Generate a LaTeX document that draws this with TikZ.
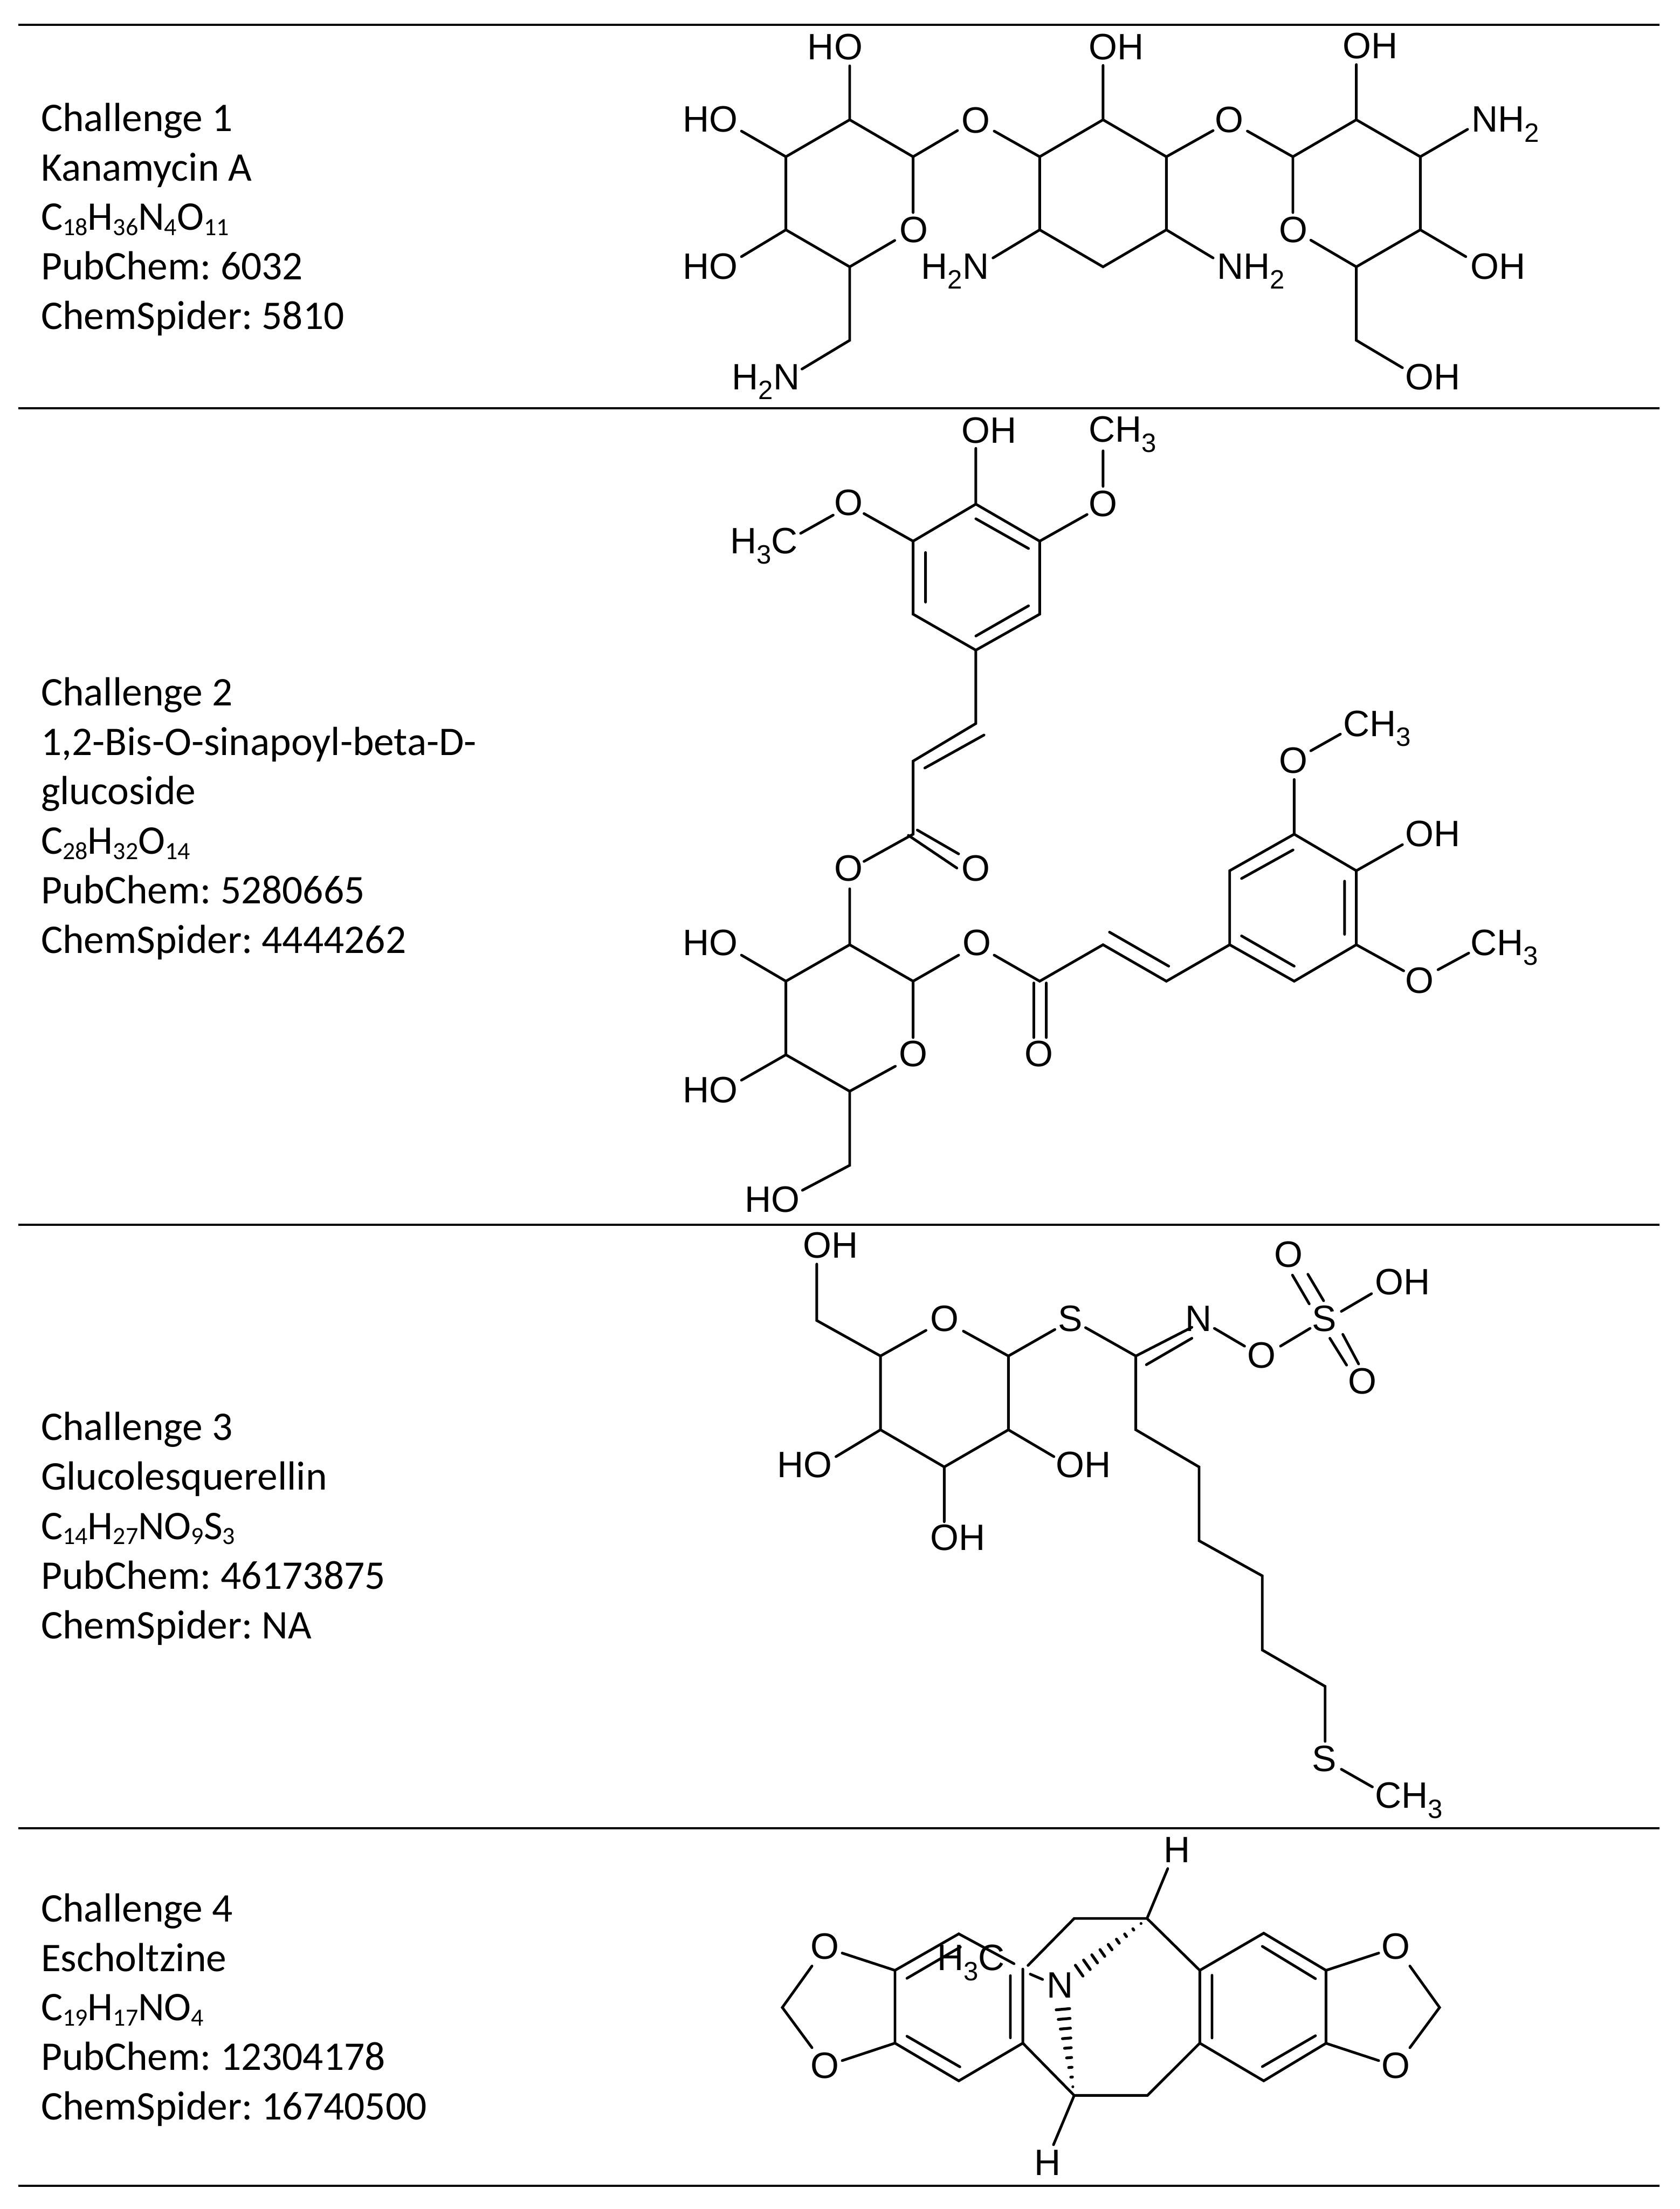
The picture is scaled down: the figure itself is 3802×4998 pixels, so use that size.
\documentclass[tikz,border=0pt]{standalone}
\usepackage{fontspec}
\setmainfont{Carlito}
\newfontfamily\arialfam{Liberation Sans}
\newcommand{\atomfont}{\arialfam\fontsize{20.75}{24}\selectfont}
\newcommand{\infofont}{\frenchspacing\fontsize{23}{28}\selectfont}
\newcommand{\sbc}[1]{\raisebox{-2.9pt}{\fontsize{14}{14}\selectfont #1}}
\newcommand{\sba}[1]{\raisebox{-5.75pt}{\fontsize{15}{15}\selectfont #1}}
\usetikzlibrary{calc}
\tikzset{
  bond/.style={line width=1.5pt,line cap=round,line join=miter},
  hashbar/.style={line width=1.6pt,line cap=round},
  rowrule/.style={line width=1.25pt},
  atom/.style={inner sep=0pt,anchor=base west,xshift=-1.25pt,font=\atomfont},
  info/.style={inner sep=0pt,anchor=base west,align=left,font=\infofont}
}
\newcommand{\pts}[1]{\foreach \n/\px/\py in {#1}{\coordinate (\n) at (\px,\py);}}
\begin{document}
\begin{tikzpicture}[x=0.25pt,y=-0.25pt]
\useasboundingbox (0,0) rectangle (3802,4998);
% rules
\pts{L0/41/56,R0/3756/56,L1/41/924,R1/3756/924,L2/41/2770.7,R2/3756/2770.7,L3/41/4136.5,R3/3756/4136.5,L4/41/4945,R4/3756/4945}
\foreach \i in {0,...,4}{\draw[rowrule] (L\i)--(R\i);}
% left column
\node[info] (t1) at (92,745) {Challenge 1\\Kanamycin A\\C\sbc{18}H\sbc{36}N\sbc{4}O\sbc{11}\\PubChem: 6032\\ChemSpider: 5810};
\node[info] (t2) at (92,2156.3) {Challenge 2\\1,2-Bis-O-sinapoyl-beta-D-\\glucoside\\C\sbc{28}H\sbc{32}O\sbc{14}\\PubChem: 5280665\\ChemSpider: 4444262};
\node[info] (t3) at (92,3707) {Challenge 3\\Glucolesquerellin\\C\sbc{14}H\sbc{27}NO\sbc{9}S\sbc{3}\\PubChem: 46173875\\ChemSpider: NA};
\node[info] (t4) at (92,4796) {Challenge 4\\Escholtzine\\C\sbc{19}H\sbc{17}NO\sbc{4}\\PubChem: 12304178\\ChemSpider: 16740500};
% ---------- Kanamycin A
\pts{a1/1923/271,a2/2066.5/354.6,a3/2066.5/481,a4/2025/544,a5/1923/603.7,a6/1778.6/520,a7/1778.6/354.6,a8/1923/149,a9/1678/296.6,a10/1678/580.7,a11/1923/770,a12/1815/835,a13/2167/295.4,
b1/2250/296.6,b2/2353/354.6,b3/2496.4/271,b4/2639.7/354.6,b5/2639.7/520,b6/2496.4/603.7,b7/2353/520,b8/2496.4/148,b9/2247.3/583.6,b10/2745.5/583.6,b11/2745.5/295.4,
c1/2823/296.6,c2/2926/354.6,c3/3069.6/271,c4/3214.4/354.6,c5/3214.4/520,c6/3069.6/603.7,c7/2966.6/543.4,c8/2926/481,c9/3069.6/146,c10/3321.4/292.6,c11/3317.4/580.7,c12/3069.6/770,c13/3174/832}
\draw[bond] (a3)--(a2)--(a1)--(a7)--(a6)--(a5)--(a4) (a1)--(a8) (a7)--(a9) (a6)--(a10) (a5)--(a11)--(a12) (a2)--(a13);
\draw[bond] (b1)--(b2)--(b3)--(b4)--(b5)--(b6)--(b7)--(b2) (b3)--(b8) (b7)--(b9) (b5)--(b10) (b4)--(b11);
\draw[bond] (c1)--(c2)--(c3)--(c4)--(c5)--(c6)--(c7) (c2)--(c8) (c3)--(c9) (c4)--(c10) (c5)--(c11) (c6)--(c12)--(c13);
\node[atom] (A1) at (1832,134.7) {HO};
\node[atom] (A2) at (2468,134.7) {OH};
\node[atom] (A3) at (3043,133) {OH};
\node[atom] (A4) at (1549.6,298) {HO};
\node[atom] (A5) at (2181,301) {O};
\node[atom] (A6) at (2754,299.5) {O};
\node[atom] (A7) at (3335,298) {NH\sba{2}};
\node[atom] (A8) at (1549.6,631) {HO};
\node[atom] (A9) at (2089,631) {H\sba{2}N};
\node[atom] (A10) at (2759,631) {NH\sba{2}};
\node[atom] (A11) at (3332,631) {OH};
\node[atom] (A12) at (2040,549) {O};
\node[atom] (A13) at (2899.5,549) {O};
\node[atom] (A14) at (1660.7,881) {H\sba{2}N};
\node[atom] (A15) at (3185,881) {OH};
% ---------- 1,2-Bis-O-sinapoyl-beta-D-glucoside
\pts{d1/2208.5/1140.6,d2/2353/1224.4,d3/2353/1389.6,d4/2208.5/1471,d5/2066.5/1389.6,d6/2066.5/1224.4,
d1a/2208.5/1173.7,d2a/2327.7/1241,d3a/2327.7/1370.7,d4a/2208.5/1439,d5a/2094.6/1362.4,d6a/2094.6/1250,
d7/2208.5/1014.4,d8/2460.3/1164,d9/2496.4/1100.5,d10/2496.4/1020,d11/1955.4/1162,d12/1885.7/1165.4,d13/1812/1206.7,
e1/2208.5/1637,e2/2066.5/1722,e1a/2227/1663,e2a/2093/1737.6,e3/2066.5/1887.4,e4a/2076/1878,e4b/2169.6/1932,e5a/2055.8/1890,e5b/2165.6/1964,e6/1955.4/1949,e7/1923/2011,
f1/1923/2137.5,f2/2066.5/2220,f3/2066.5/2347.6,f4/2026.3/2412.4,f5/1923/2469,f6/1778.6/2386.5,f7/1778.6/2220,f8/1678/2161,f9/1678/2444,f10/1923/2636.6,f11/1816/2693,f12/2169.6/2161,
g1/2250/2161,g2/2353/2220,g3a/2339.7/2224,g3b/2339.7/2347.6,g4a/2367.9/2224,g4b/2367.9/2347.6,g5/2496.4/2137.5,g6/2639.7/2220,g5a/2511/2109,g6a/2645/2186,g7/2783/2137.5,
h1/2783/1970,h2/2929/1887.4,h3/3069.6/1970,h4/3069.6/2137.5,h5/2929/2220,h1a/2809.8/1987.7,h2a/2926.4/1923,h7a/2809.8/2117.5,h5a/2929/2186,h3a/3043/1993.6,h4a/3043/2114,
h6/2929/1763.6,h7/2966.6/1698.7,h8/3033.5/1661,h9/3174/1911,h10/3176.8/2196.6,h11/3254.5/2194,h12/3324/2156.4}
\draw[bond] (d1)--(d2)--(d3)--(d4)--(d5)--(d6)--(d1) (d1a)--(d2a) (d3a)--(d4a) (d5a)--(d6a) (d1)--(d7) (d2)--(d8) (d9)--(d10) (d6)--(d11) (d12)--(d13);
\draw[bond] (d4)--(e1)--(e2)--(e3)--(e6) (e1a)--(e2a) (e4a)--(e4b) (e5a)--(e5b) (e7)--(f1);
\draw[bond] (f1)--(f2)--(f3) (f4)--(f5)--(f6)--(f7)--(f1) (f7)--(f8) (f6)--(f9) (f5)--(f10)--(f11) (f2)--(f12);
\draw[bond] (g1)--(g2)--(g5)--(g6)--(g7) (g3a)--(g3b) (g4a)--(g4b) (g5a)--(g6a);
\draw[bond] (g7)--(h1)--(h2)--(h3)--(h4)--(h5)--(g7) (h1a)--(h2a) (h7a)--(h5a) (h3a)--(h4a) (h2)--(h6) (h7)--(h8) (h3)--(h9) (h4)--(h10) (h11)--(h12);
\node[atom] (D1) at (2180,1002.6) {OH};
\node[atom] (D2) at (2468,1000) {CH\sba{3}};
\node[atom] (D3) at (2468,1167.8) {O};
\node[atom] (D4) at (1892.4,1165.4) {O};
\node[atom] (D5) at (1656.7,1252.7) {H\sba{3}C};
\node[atom] (D6) at (1892.4,1993.6) {O};
\node[atom] (D7) at (2180,1993.6) {O};
\node[atom] (D8) at (1549.6,2161) {HO};
\node[atom] (D9) at (1549.6,2495) {HO};
\node[atom] (D10) at (2038.4,2412.4) {O};
\node[atom] (D11) at (1690,2743) {HO};
\node[atom] (D12) at (2183,2161) {O};
\node[atom] (D13) at (2323.7,2412.4) {O};
\node[atom] (D14) at (2899.5,1749.4) {O};
\node[atom] (D15) at (3044,1665.6) {CH\sba{3}};
\node[atom] (D16) at (3185,1914.6) {OH};
\node[atom] (D17) at (3185,2247) {O};
\node[atom] (D18) at (3332,2161) {CH\sba{3}};
% ---------- Glucolesquerellin
\pts{k1/1848.5/2987.7,k2/1848.5/2860,k3/1992.7/3068,k4/2095.7/3010,k5/2180.3/3011.8,k6/2282.2/3068,k7/2282.2/3235,k8/2137/3319,k9/1992.7/3235,
k10/2387.4/3008,k11/2456.8/3003.8,k12/2570.6/3068,k13/2697.4/3003,k14/2594.4/3087.7,k15/2697.4/3027.9,k16/2748.4/3005.5,k17/2816.7/3045.7,k18/2898/3045.7,k19/2965/3005.5,
k20/2963/2950,k21/2925/2885,k22/2995.6/2943,k23/2960/2883,k24/3009.7/3027.9,k25/3047.6/3088.6,k26/3039/3019,k27/3074.8/3086,k28/3035.7/2967,k29/3104/2927,
k30/2385.2/3295.7,k31/1891.9/3295.7,k32/2137/3443,k33/2570.6/3235,k34/2713.7/3319,k35/2713.7/3486,k36/2856.8/3565.4,k37/2856.8/3733.3,k38/2998.9/3815.4,k39/2998.9/3940,k40/3035.7/4003,k41/3106/4043}
\draw[bond] (k2)--(k1)--(k3)--(k4) (k5)--(k6)--(k7)--(k8)--(k9)--(k3) (k6)--(k10) (k11)--(k12)--(k13) (k14)--(k15) (k16)--(k17) (k18)--(k19) (k20)--(k21) (k22)--(k23) (k24)--(k25) (k26)--(k27) (k28)--(k29) (k7)--(k30) (k9)--(k31) (k8)--(k32) (k12)--(k33)--(k34)--(k35)--(k36)--(k37)--(k38)--(k39) (k40)--(k41);
\node[atom] (K1) at (1821.4,2846.6) {OH};
\node[atom] (K2) at (2109.8,3011.8) {O};
\node[atom] (K3) at (2399.3,3011.8) {S};
\node[atom] (K4) at (2686.6,3011.8) {N};
\node[atom] (K5) at (2827.6,3094.8) {O};
\node[atom] (K6) at (2974,3011.8) {S};
\node[atom] (K7) at (2888,2867) {O};
\node[atom] (K8) at (3055,3153) {O};
\node[atom] (K9) at (3116,2929.6) {OH};
\node[atom] (K10) at (2393.9,3343) {OH};
\node[atom] (K11) at (1762.9,3343) {HO};
\node[atom] (K12) at (2109.8,3508) {OH};
\node[atom] (K13) at (2974,4007.4) {S};
\node[atom] (K14) at (3116,4090.4) {CH\sba{3}};
% ---------- Escholtzine
\pts{m1/2025.5/4458,m2/2169.9/4375.4,m3/2295/4443,m4/2314.8/4455,m5/2314.8/4622.7,m6/2169.9/4708,m7/2025.5/4622.7,
m1a/2052.6/4476,m2a/2173.5/4405.3,m6a/2172.4/4676.3,m7a/2052.6/4607,m4a/2286.7/4470,m5a/2286.7/4610.7,
m8/2326.5/4446.9,m9/2431.1/4340.6,m10/2595.9/4340.6,m11/2715.3/4458,m12/2642.9/4227.7,m13/2331.6/4466.5,m14/2359.7/4478.6,
n1/2715.3/4622.7,n2/2860/4373.9,n3/3001/4458,n4/3001/4623,n5/2860/4708,n1a/2743/4469,n1b/2743/4611,n2a/2856.9/4403.7,n3a/2977.2/4476.9,n4a/2977.2/4605.9,n5a/2856.9/4675.8,
p1/2431.1/4741,p2/2596.9/4741,p3/2384.2/4852.6,
q1/1906/4418.9,q2/1837.7/4448.2,q3/1770.5/4542,q4/1837.7/4633,q5/1906/4662.2,
r1/3120.3/4418.9,r2/3190.8/4448.2,r3/3258/4542,r4/3190.8/4633,r5/3120.3/4662.2,
wa/2433.7/4446.4,wb/2451/4471,wt/2582.4/4352,va/2390.3/4547.3,vb/2420.9/4544.6,vt/2428/4721.4}
\draw[bond] (m3)--(m2)--(m1)--(m7)--(m6)--(m5)--(m4) (m1a)--(m2a) (m6a)--(m7a) (m4a)--(m5a);
\draw[bond] (m8)--(m9)--(m10)--(m11)--(n2)--(n3)--(n4)--(n5)--(n1)--(m11) (m10)--(m12) (m13)--(m14) (n1a)--(n1b) (n2a)--(n3a) (n4a)--(n5a);
\draw[bond] (m5)--(p1)--(p2)--(n1) (p1)--(p3);
\draw[bond] (m1)--(q1) (q2)--(q3)--(q4) (q5)--(m7) (n3)--(r1) (r2)--(r3)--(r4) (r5)--(n4);
\foreach \k in {0,...,8}{
  \draw[hashbar] ($(wa)!\k/8!(wt)$)--($(wb)!\k/8!(wt)$);
  \draw[hashbar] ($(va)!\k/8!(vt)$)--($(vb)!\k/8!(vt)$);
}
\node[atom] (M1) at (2637.8,4214) {H};
\node[atom] (M2) at (2345,4921.3) {H};
\node[atom] (M3) at (2373.5,4520.5) {N};
\node[atom] (M4) at (2125,4458) {H\sba{3}C};
\node[atom] (M5) at (1838.8,4432.4) {O};
\node[atom] (M6) at (1838.8,4701.8) {O};
\node[atom] (M7) at (3131,4432.4) {O};
\node[atom] (M8) at (3131,4701.8) {O};
\end{tikzpicture}
\end{document}
